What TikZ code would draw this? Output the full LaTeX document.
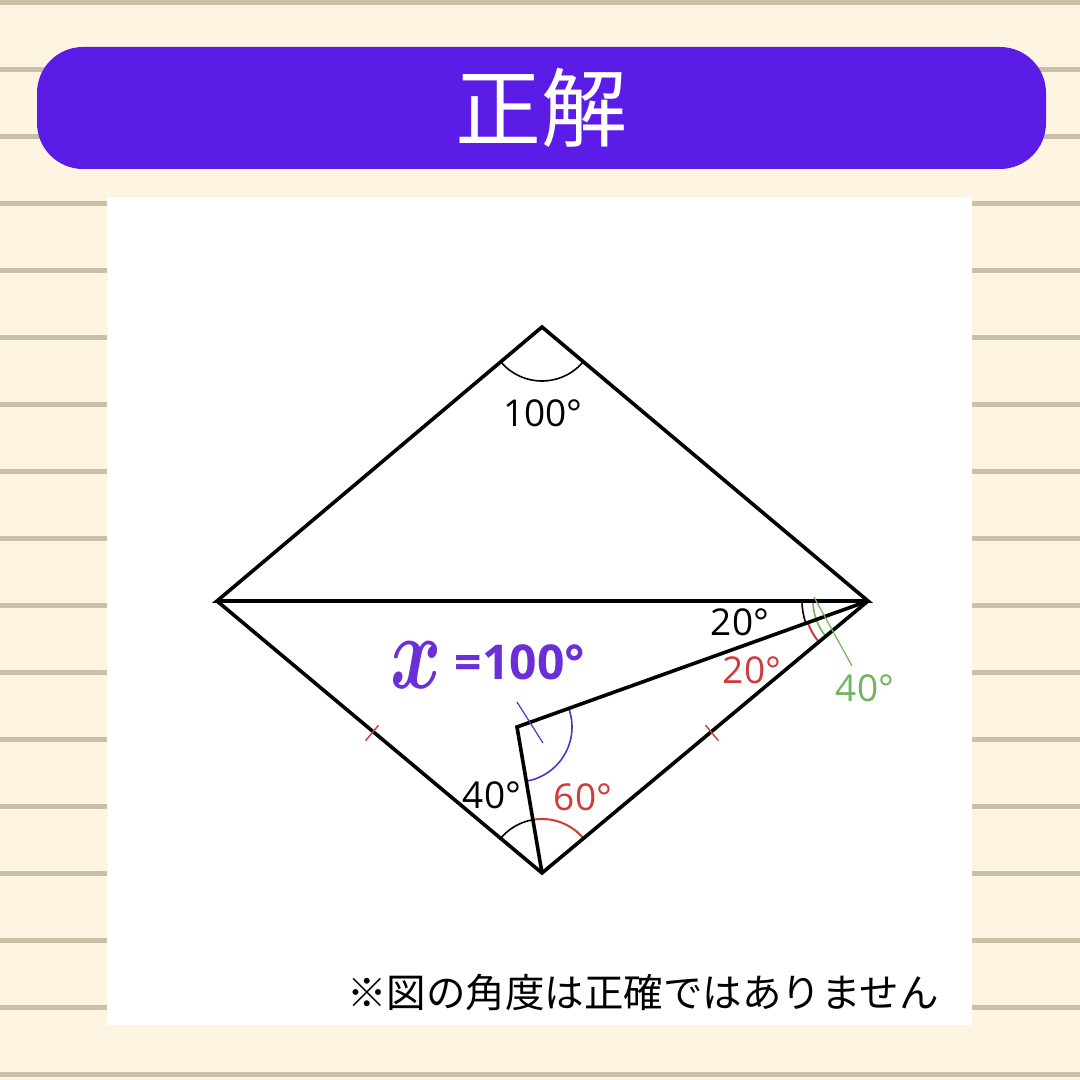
\documentclass[tikz,border=0pt]{standalone}
\usepackage{fontspec}
\setmainfont{Open Sans}
\newfontfamily\jp{Noto Sans CJK JP}
\usetikzlibrary{calc}
\definecolor{bgc}{HTML}{FDF5E1}
\definecolor{stripec}{HTML}{C9C0A8}
\definecolor{bannerc}{HTML}{5B1CE8}
\definecolor{labpurple}{HTML}{6A2FD6}
\definecolor{arcpurple}{HTML}{5B2FC0}
\definecolor{redc}{HTML}{D23A3A}
\definecolor{greenc}{HTML}{72B35E}
\tikzset{
  edge/.style={line width=3.6pt, line join=miter, black},
  angblack/.style={line width=1.6pt, black},
  angred/.style={line width=2pt, redc},
  anggreen/.style={line width=1.6pt, greenc},
  angpurple/.style={line width=1.6pt, arcpurple},
  lab/.style={font=\fontsize{37}{37}\selectfont, inner sep=0pt},
  tickred/.style={line width=1.4pt, redc},
}
\begin{document}
\begin{tikzpicture}[x=1pt,y=1pt]
\useasboundingbox (0,0) rectangle (1080,1080);
\fill[bgc] (0,0) rectangle (1080,1080);
\foreach \yy in {3,70,...,1080} \fill[stripec] (0,1080-\yy-2.5) rectangle (1080,1080-\yy+2.5);
% banner
\fill[bannerc, rounded corners=46pt] (37,1080-47) rectangle (1046,1080-169);
\node[white, font=\jp\fontsize{86}{86}\selectfont, inner sep=0pt] (title) at (541,1080-108) {正解};
% panel
\fill[white] (107,1080-197) rectangle (972,1080-1025);
% vertices
\coordinate (T) at (542,753);
\coordinate (L) at (217,479);
\coordinate (R) at (868,479);
\coordinate (B) at (542,207);
\coordinate (P) at (517,353);
% angle arcs
\draw[angblack] (T) ++(220:54) arc[start angle=220, end angle=320, radius=54];
\draw[angblack] (R) ++(180:66) arc[start angle=180, end angle=199.75, radius=66];
\draw[angred] (R) ++(199.75:64) arc[start angle=199.75, end angle=219.84, radius=64];
\draw[anggreen] (R) ++(180:55) arc[start angle=180, end angle=219.84, radius=55];
\draw[angblack] (B) ++(140.1:54) arc[start angle=140.1, end angle=99.7, radius=54];
\draw[angred] (B) ++(99.7:54) arc[start angle=99.7, end angle=39.84, radius=54];
\draw[angpurple] (P) ++(19.75:55) arc[start angle=19.75, end angle=-80.28, radius=55];
% edges
\draw[edge] (T) -- (L) -- (R) -- cycle;
\draw[edge] (L) -- (B) -- (R);
\draw[edge] (R) -- (P) -- (B);
% ticks
\coordinate (M1) at (372,347);
\coordinate (M2) at (712,347);
\draw[tickred] ($(M1)+(50.1:10)$) -- ($(M1)+(230.1:10)$);
\draw[tickred] ($(M2)+(129.8:10)$) -- ($(M2)+(309.8:10)$);
% leaders
\coordinate (g1) at (814,483);
\coordinate (g2) at (852,414);
\draw[greenc, line width=1.2pt] (g1) -- (g2);
\coordinate (p1) at (517,378);
\coordinate (p2) at (543,337);
\draw[arcpurple, line width=1.2pt] (p1) -- (p2);
% labels
\node[lab] (l100) at (543,667) {100°};
\node[lab] (l20a) at (740,458) {20°};
\node[lab, redc] (l20b) at (752,410) {20°};
\node[lab, greenc] (l40g) at (865,392) {40°};
\node[lab] (l40) at (492,285) {40°};
\node[lab, redc] (l60) at (583,283) {60°};
\node[labpurple, inner sep=0pt] (xv) at (416,415) {\scalebox{7.8}[10.5]{\boldmath$x$}};
\node[labpurple, inner sep=0pt, font=\bfseries\fontsize{48}{48}\selectfont] (xeq) at (520,418) {=100°};
\node[inner sep=0pt, font=\jp\fontsize{39.5}{39.5}\selectfont] (note) at (643,87) {※図の角度は正確ではありません};
\end{tikzpicture}
\end{document}
